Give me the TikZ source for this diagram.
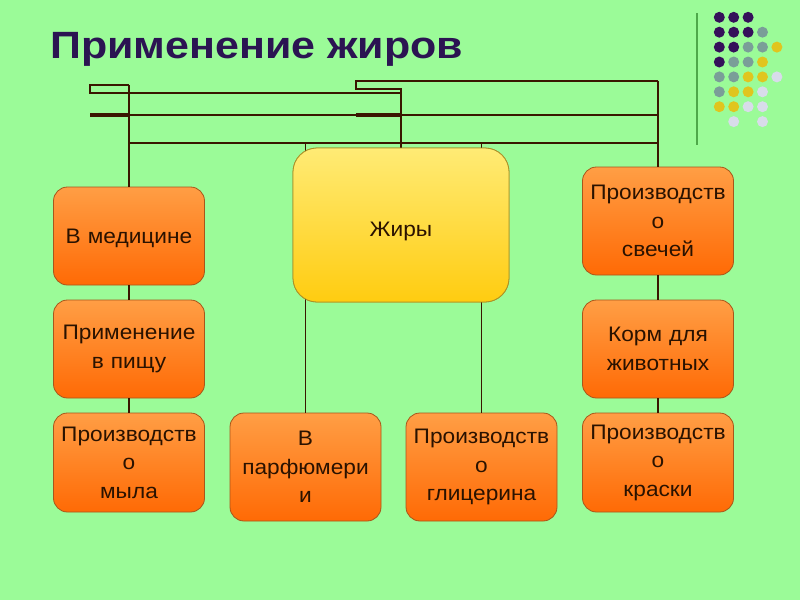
\documentclass[tikz,border=0pt]{standalone}
\usepackage{fontspec}
\setmainfont{Liberation Sans}
\newfontfamily\boxfont[FakeStretch=1.08]{Liberation Sans}
\newfontfamily\titlefont[FakeStretch=1.13]{Liberation Sans}
\definecolor{bg}{HTML}{9BFB98}
\definecolor{linec}{HTML}{3A1600}
\definecolor{otop}{HTML}{FF9E45}
\definecolor{obot}{HTML}{FF6A05}
\definecolor{oborder}{HTML}{A8561A}
\definecolor{ytop}{HTML}{FFEB75}
\definecolor{ybot}{HTML}{FFCC10}
\definecolor{yborder}{HTML}{A89028}
\definecolor{txt}{HTML}{2A1200}
\definecolor{titlec}{HTML}{2B1452}
\definecolor{dpurple}{HTML}{35105A}
\definecolor{dteal}{HTML}{7A9E98}
\definecolor{dyellow}{HTML}{E0C51E}
\definecolor{dlight}{HTML}{D8DCEA}
\definecolor{gline}{HTML}{4EA84A}
\begin{document}
\begin{tikzpicture}[x=1pt,y=-1pt,
  conn/.style={draw=linec, line width=1.6pt},
  thickconn/.style={draw=linec, line width=3.2pt},
  boxtext/.style={font=\boxfont\fontsize{21}{28.5}\selectfont, text=txt, align=center, inner sep=0pt},
  obox/.style={boxtext, draw=oborder, line width=0.8pt, rounded corners=14pt,
    top color=otop, bottom color=obot, minimum width=151pt, text width=148pt},
  ybox/.style={boxtext, draw=yborder, line width=0.8pt, rounded corners=24pt,
    top color=ytop, bottom color=ybot, minimum width=216pt, minimum height=154pt, text width=200pt},
  dot/.style={circle, inner sep=0pt, minimum size=11pt},
]
\useasboundingbox[fill=bg] (0,0) rectangle (800,600);

% title
\node[anchor=base west, inner sep=0pt, text=titlec, font=\titlefont\bfseries\fontsize{38}{44}\selectfont] (title) at (50,58) {Применение жиров};

% decoration
\coordinate (gtop) at (697,13);
\coordinate (gbot) at (697,145);
\draw[gline, line width=2.2pt] (gtop) -- (gbot);
\foreach \r/\list in {0/{dpurple,dpurple,dpurple},
                      1/{dpurple,dpurple,dpurple,dteal},
                      2/{dpurple,dpurple,dteal,dteal,dyellow},
                      3/{dpurple,dteal,dteal,dyellow},
                      4/{dteal,dteal,dyellow,dyellow,dlight},
                      5/{dteal,dyellow,dyellow,dlight},
                      6/{dyellow,dyellow,dlight,dlight}}{
  \foreach \c [count=\i from 0] in \list {
    \node[dot, fill=\c] (d\r-\i) at ({719.3+14.4*\i},{17.3+14.9*\r}) {};
  }
}
\node[dot, fill=dlight] (d7-1) at ({719.3+14.4},{17.3+14.9*7}) {};
\node[dot, fill=dlight] (d7-3) at ({719.3+14.4*3},{17.3+14.9*7}) {};

% boxes
\node[ybox] (fat) at (401,225) {\rule{0pt}{27pt}Жиры};
\node[obox, minimum height=98pt] (m1) at (129,236) {\rule{0pt}{19pt}В медицине};
\node[obox, minimum height=98pt] (m2) at (129,349) {Применение\\в пищу};
\node[obox, minimum height=99pt] (m3) at (129,462.5) {Производств\\о\\мыла};
\node[obox, minimum height=108pt] (r1) at (658,221) {Производств\\о\\свечей};
\node[obox, minimum height=98pt] (r2) at (658,349) {Корм для\\ животных};
\node[obox, minimum height=99pt] (r3) at (658,462.5) {Производств\\о\\краски};
\node[obox, minimum height=108pt] (p1) at (305.5,467) {В\\парфюмери\\и};
\node[obox, minimum height=108pt] (p2) at (481.5,467) {Производств\\о\\глицерина};

% junction coordinates
\coordinate (la) at (90,85);
\coordinate (lb) at (90,93);
\coordinate (L1) at (129,85);
\coordinate (L2) at (129,93);
\coordinate (L3) at (129,115);
\coordinate (L4) at (129,143);
\coordinate (ra) at (356,80.7);
\coordinate (rb) at (356,89);
\coordinate (R1) at (658,80.7);
\coordinate (R3) at (658,115);
\coordinate (R4) at (658,143);
\coordinate (C1) at (401,89);
\coordinate (C2) at (401,93);
\coordinate (C3) at (401,115);
\coordinate (C4) at (401,143);
\coordinate (t3) at (90,115);
\coordinate (s3) at (356,115);
\coordinate (P1) at (305.5,143);
\coordinate (P2) at (481.5,143);

% connectors
\draw[conn] (L1) -- (la) -- (lb) -- (L2) -- (C2);
\draw[conn] (L1) -- (m1.north);
\draw[conn] (R1) -- (ra) -- (rb) -- (C1) -- (fat.north);
\draw[conn] (R1) -- (r1.north);
\draw[conn] (L3) -- (R3);
\draw[conn] (L4) -- (R4);
\draw[thickconn] (t3) -- (L3);
\draw[thickconn] (s3) -- (C3);
\draw[conn] (P1) -- (p1.north);
\draw[conn] (P2) -- (p2.north);
\draw[conn] (m1.south) -- (m2.north);
\draw[conn] (m2.south) -- (m3.north);
\draw[conn] (r1.south) -- (r2.north);
\draw[conn] (r2.south) -- (r3.north);

% redraw the central box on top of the lines that pass behind it
\node[ybox] (fat2) at (fat.center) {\rule{0pt}{27pt}Жиры};
\end{tikzpicture}
\end{document}
